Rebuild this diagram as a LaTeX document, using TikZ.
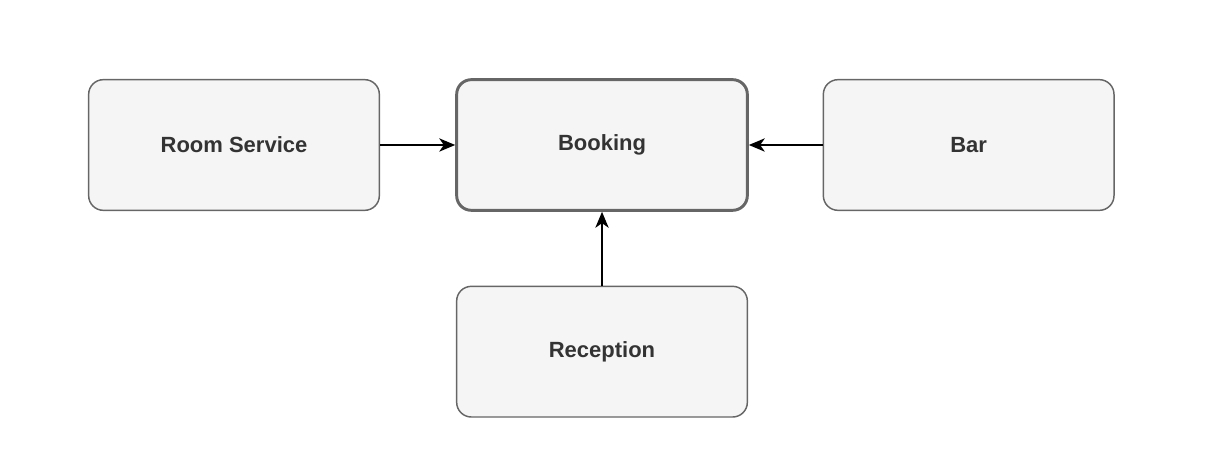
\documentclass[tikz,border=0pt]{standalone}
\usepackage{fontspec}
\setmainfont{Liberation Sans}
\usetikzlibrary{arrows.meta, positioning}

\definecolor{boxfill}{HTML}{F5F5F5}
\definecolor{boxline}{HTML}{666666}
\definecolor{boxtext}{HTML}{333333}

\tikzset{
    dept/.style = {draw=boxline, fill=boxfill, text=boxtext,
        line width=1.1pt, rounded corners=11pt,
        minimum width=218pt, minimum height=98pt,
        font=\fontsize{16.5}{19}\selectfont\bfseries},
    core/.style = {dept, line width=2.2pt},
    link/.style = {-{Stealth[length=12pt, width=10pt, inset=3.5pt]}, line width=1.1pt}
}

\begin{document}
\begin{tikzpicture} [node distance = 276pt and 155pt,
            on grid]

            \useasboundingbox (0,0) rectangle (922.5pt,356.25pt);

            % Central node
            \node (booking) [core] at (451.5pt,247.5pt) {Booking};

            % Surrounding nodes
            \node (roomservice) [dept,
                left = 276pt of booking] {Room Service};

            \node (bar) [dept,
                right = 275pt of booking] {Bar};

            \node (reception) [dept,
                below = 155pt of booking] {Reception};

            % Arrows
            \draw [link] (roomservice) -- (booking);
            \draw [link] (bar) -- (booking);
            \draw [link] (reception) -- (booking);
        \end{tikzpicture}
\end{document}
